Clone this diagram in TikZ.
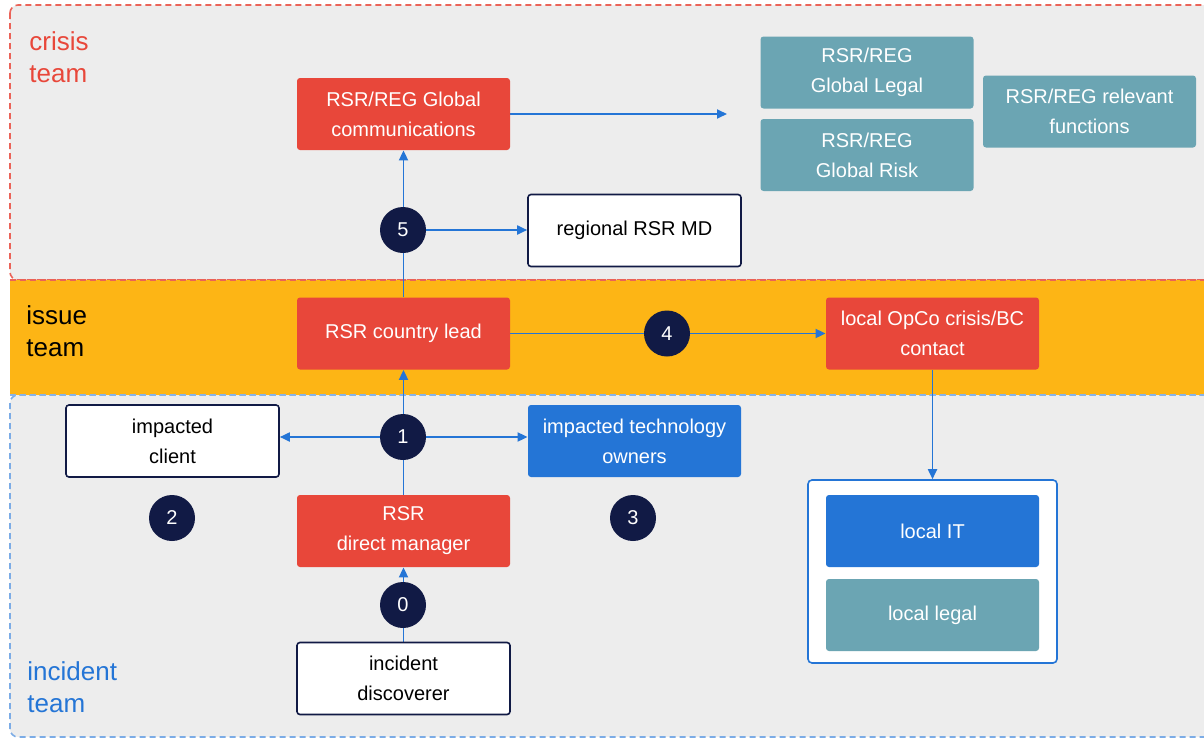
\documentclass[tikz,border=0pt]{standalone}
\usepackage{fontspec}
\setmainfont{Liberation Sans}
\usetikzlibrary{arrows.meta}

\definecolor{boxred}{HTML}{E8473A}
\definecolor{boxteal}{HTML}{6BA5B3}
\definecolor{boxblue}{HTML}{2475D6}
\definecolor{stepnavy}{HTML}{111A45}
\definecolor{issueorange}{HTML}{FDB515}
\definecolor{areagray}{HTML}{EDEDED}

\pgfdeclarelayer{bg}
\pgfdeclarelayer{lines}
\pgfsetlayers{bg,lines,main}

\tikzset{
  box/.style={rectangle, rounded corners=1.5pt, minimum width=106.5pt, minimum height=36pt,
    inner sep=0pt, align=center, font=\fontsize{10}{15}\selectfont},
  redbox/.style={box, fill=boxred, text=white},
  tealbox/.style={box, fill=boxteal, text=white},
  bluebox/.style={box, fill=boxblue, text=white},
  whitebox/.style={box, fill=white, draw=stepnavy, line width=0.8pt, text=black},
  stepdot/.style={circle, fill=stepnavy, text=white, minimum size=23pt, inner sep=0pt,
    font=\fontsize{10}{12}\selectfont},
  arealabel/.style={anchor=base west, align=left, inner sep=0pt, font=\fontsize{13}{16}\selectfont},
  areaedge/.style={dashed, dash pattern=on 3pt off 2pt, line width=0.8pt},
  flow/.style={draw=boxblue, line width=0.9pt, -{Triangle[length=5pt,width=4.5pt]}}
}

\begin{document}
\begin{tikzpicture}[x=0.5pt,y=-0.5pt]
\useasboundingbox (0,0) rectangle (1204,739);

% team areas
\begin{pgfonlayer}{bg}
\draw [areaedge, fill=areagray, draw=boxred!85, rounded corners=4pt] (10,5) rectangle (1230,280);
\draw [areaedge, fill=areagray, draw=boxblue!60, rounded corners=4pt] (10,395) rectangle (1230,737);
\fill [issueorange] (10,280) rectangle (1230,395);
\draw [areaedge, boxred!85] (10,280) -- (1230,280);
\draw [areaedge, boxblue!55] (10,395) -- (1230,395);
\end{pgfonlayer}

\node [arealabel, text=boxred] (crisislbl) at (29,82) {crisis\\team};
\node [arealabel, text=black] (issuelbl) at (26,356) {issue\\team};
\node [arealabel, text=boxblue] (incidentlbl) at (27,712) {incident\\team};

% crisis team
\node [redbox] (comm) at (403.5,114) {RSR/REG Global\\communications};
\node [tealbox] (glegal) at (867,72.5) {RSR/REG\\Global Legal};
\node [tealbox] (grisk) at (867,155) {RSR/REG\\Global Risk};
\node [tealbox] (relevant) at (1089.5,111.5) {RSR/REG relevant\\functions};
\node [whitebox] (regmd) at (634.5,230.5) {regional RSR MD};
\coordinate (commend) at (727,114);

% issue team
\node [redbox] (country) at (403.5,333.5) {RSR country lead};
\node [redbox] (opco) at (932.5,333.5) {local OpCo crisis/BC\\contact};

% incident team
\node [whitebox] (client) at (172.5,441) {impacted\\client};
\node [bluebox] (tech) at (634.5,441) {impacted technology\\owners};
\node [redbox] (manager) at (403.5,531) {RSR\\direct manager};
\node [whitebox] (discoverer) at (403.5,678.5) {incident\\discoverer};

\node [rectangle, rounded corners=2pt, draw=boxblue, line width=0.8pt, fill=white,
  minimum width=124.5pt, minimum height=91.5pt] (localgrp) at (932.5,571.5) {};
\node [bluebox] (localit) at (932.5,531) {local IT};
\node [tealbox] (locallegal) at (932.5,615) {local legal};

% steps
\node [stepdot] (s0) at (403,605) {0};
\node [stepdot] (s1) at (403,437) {1};
\node [stepdot] (s2) at (172,518) {2};
\node [stepdot] (s3) at (633,518) {3};
\node [stepdot] (s4) at (667,333.5) {4};
\node [stepdot] (s5) at (403,230) {5};

\begin{pgfonlayer}{lines}
\draw [flow] (discoverer) -- (manager);
\draw [flow] (manager) -- (country);
\draw [flow] (s1.center) -- (s1 -| client.east);
\draw [flow] (s1.center) -- (s1 -| tech.west);
\draw [flow] (country) -- (comm);
\draw [flow] (s5.center) -- (s5 -| regmd.west);
\draw [flow] (country) -- (opco);
\draw [flow] (opco) -- (localgrp);
\draw [flow] (comm.east) -- (commend);
\end{pgfonlayer}

\end{tikzpicture}
\end{document}
